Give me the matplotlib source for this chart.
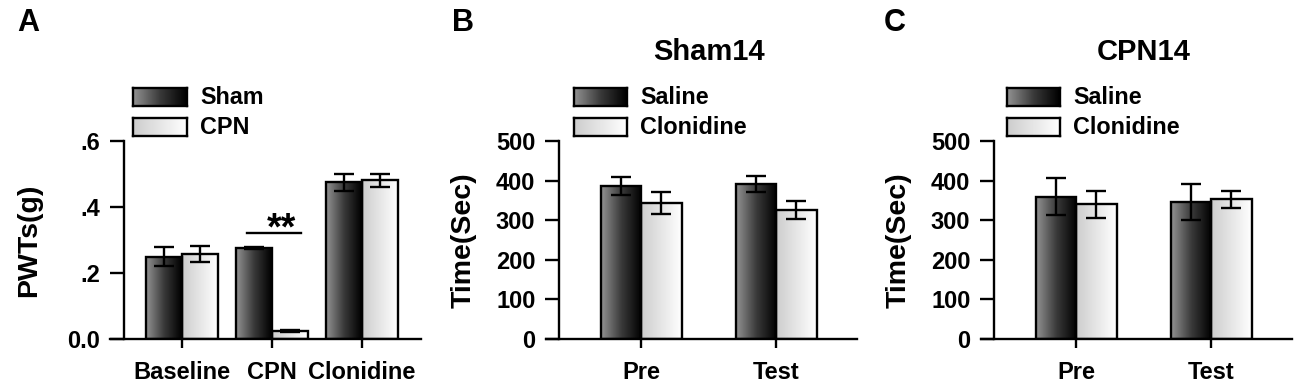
import numpy as np
import matplotlib
matplotlib.use("Agg")
import matplotlib.pyplot as plt
from matplotlib.colors import LinearSegmentedColormap
from matplotlib.transforms import blended_transform_factory

plt.rcParams['font.family'] = ['Liberation Sans', 'DejaVu Sans']
plt.rcParams['font.weight'] = 'bold'

# Panel A: paw withdrawal thresholds
a_groups = ['Baseline', 'CPN', 'Clonidine']
a_series = ['Sham', 'CPN']
a_sham = [0.25, 0.277, 0.475]
a_sham_err = [0.03, 0.003, 0.025]
a_cpn = [0.257, 0.024, 0.481]
a_cpn_err = [0.025, 0.002, 0.02]

# Panels B, C: time in chamber
bc_groups = ['Pre', 'Test']
bc_series = ['Saline', 'Clonidine']
b_saline = [386, 391]
b_saline_err = [23, 21]
b_clon = [343, 326]
b_clon_err = [27, 22]
c_saline = [359, 346]
c_saline_err = [47, 45]
c_clon = [340, 353]
c_clon_err = [34, 21]

W, H = 1300, 389
LW = 1.7
dark_cmap = LinearSegmentedColormap.from_list('dark', ['#929292', '#3a3a3a', '#000000'])
light_cmap = LinearSegmentedColormap.from_list('light', ['#cdcdcd', '#ffffff'])
grad = np.linspace(0, 1, 64).reshape(1, -1)


def gradient_bars(ax, x, heights, width, cmap):
    bars = ax.bar(x, heights, width, facecolor='none', edgecolor='black',
                  linewidth=LW, zorder=3)
    for b in bars:
        x0, y0 = b.get_x(), b.get_y()
        im = ax.imshow(grad, cmap=cmap, aspect='auto', zorder=2,
                       extent=(x0, x0 + b.get_width(), y0, y0 + b.get_height()))
        im.set_clip_path(b)
    return bars


def legend_swatch(fig, x, y, w, h, cmap, label):
    lax = fig.add_axes([x / W, 1 - (y + h) / H, w / W, h / H])
    lax.imshow(grad, cmap=cmap, aspect='auto')
    lax.set_xticks([])
    lax.set_yticks([])
    for s in lax.spines.values():
        s.set_linewidth(LW)
    fig.text((x + w + 13) / W, 1 - (y + h / 2) / H, label, fontsize=16.8,
             fontweight='bold', va='center', ha='left')


def setup_axes(ax, xlim, yaxis_x, ylim, yticks, yticklabels, xticks, xticklabels, ylabel, label_x):
    ax.set_xlim(*xlim)
    ax.set_ylim(*ylim)
    for s in ['top', 'right']:
        ax.spines[s].set_visible(False)
    ax.spines['left'].set_position(('data', yaxis_x))
    ax.spines['left'].set_linewidth(LW)
    ax.spines['bottom'].set_linewidth(LW)
    ax.set_yticks(yticks)
    ax.set_yticklabels(yticklabels)
    ax.set_xticks(xticks)
    ax.set_xticklabels(xticklabels)
    ax.tick_params(axis='y', length=10, width=LW, pad=7, labelsize=17)
    ax.tick_params(axis='x', length=6.5, width=LW, pad=9, labelsize=17)
    for t in ax.get_xticklabels() + ax.get_yticklabels():
        t.set_fontweight('bold')
    ax.text(label_x, 0.5, ylabel, transform=ax.transAxes, rotation=90,
            ha='center', va='center', fontsize=20.5, fontweight='bold')


fig = plt.figure(figsize=(13, 3.89), dpi=100)
ax_bottom = 1 - 339 / H
ax_height = 198 / H

# ---- Panel A ----
axA = fig.add_axes([110 / W, ax_bottom, 311 / W, ax_height])
xa = np.arange(len(a_groups))
gradient_bars(axA, xa - 0.2, a_sham, 0.4, dark_cmap)
gradient_bars(axA, xa + 0.2, a_cpn, 0.4, light_cmap)
axA.errorbar(xa - 0.2, a_sham, yerr=a_sham_err, fmt='none', ecolor='black',
             elinewidth=LW, capsize=7, capthick=LW, zorder=4)
axA.errorbar(xa + 0.2, a_cpn, yerr=a_cpn_err, fmt='none', ecolor='black',
             elinewidth=LW, capsize=7, capthick=LW, zorder=4)
setup_axes(axA, (-0.8, 2.656), -0.644, (0, 0.6), [0, 0.2, 0.4, 0.6],
           ['0.0', '.2', '.4', '.6'], xa, a_groups, 'PWTs(g)', -0.26)
axA.plot([0.72, 1.32], [0.32, 0.32], color='black', linewidth=LW, zorder=4)
axA.text(1.1, 0.278, '**', ha='center', va='bottom', fontsize=27, fontweight='bold')
legend_swatch(fig, 133, 88, 54, 18, dark_cmap, a_series[0])
legend_swatch(fig, 133, 118, 54, 18, light_cmap, a_series[1])
fig.text(28 / W, 1 - 23 / H, 'A', fontsize=22, fontweight='bold', ha='center', va='center')

# ---- Panels B, C ----
panels = [
    (546, 559, 'Sham14', b_saline, b_saline_err, b_clon, b_clon_err, 'B', 463, 574),
    (981, 994, 'CPN14', c_saline, c_saline_err, c_clon, c_clon_err, 'C', 895, 1007),
]
for left, yax, title, sal, sal_err, clo, clo_err, letter, letter_x, leg_x in panels:
    ax = fig.add_axes([left / W, ax_bottom, 311 / W, ax_height])
    xb = np.arange(len(bc_groups))
    gradient_bars(ax, xb - 0.15, sal, 0.30, dark_cmap)
    gradient_bars(ax, xb + 0.15, clo, 0.30, light_cmap)
    ax.errorbar(xb - 0.15, sal, yerr=sal_err, fmt='none', ecolor='black',
                elinewidth=LW, capsize=7, capthick=LW, zorder=4)
    ax.errorbar(xb + 0.15, clo, yerr=clo_err, fmt='none', ecolor='black',
                elinewidth=LW, capsize=7, capthick=LW, zorder=4)
    setup_axes(ax, (-95 / 135, 216 / 135), (yax - left - 95) / 135, (0, 500),
               [0, 100, 200, 300, 400, 500], ['0', '100', '200', '300', '400', '500'],
               xb, bc_groups, 'Time(Sec)', -0.265)
    trans = blended_transform_factory(ax.transData, fig.transFigure)
    ax.text(0.5, 1 - 52 / H, title, transform=trans, ha='center', va='center',
            fontsize=21, fontweight='bold')
    legend_swatch(fig, leg_x, 88, 53, 18, dark_cmap, bc_series[0])
    legend_swatch(fig, leg_x, 118, 53, 18, light_cmap, bc_series[1])
    fig.text(letter_x / W, 1 - 23 / H, letter, fontsize=22, fontweight='bold',
             ha='center', va='center')

fig.savefig('out.png', dpi=100)
